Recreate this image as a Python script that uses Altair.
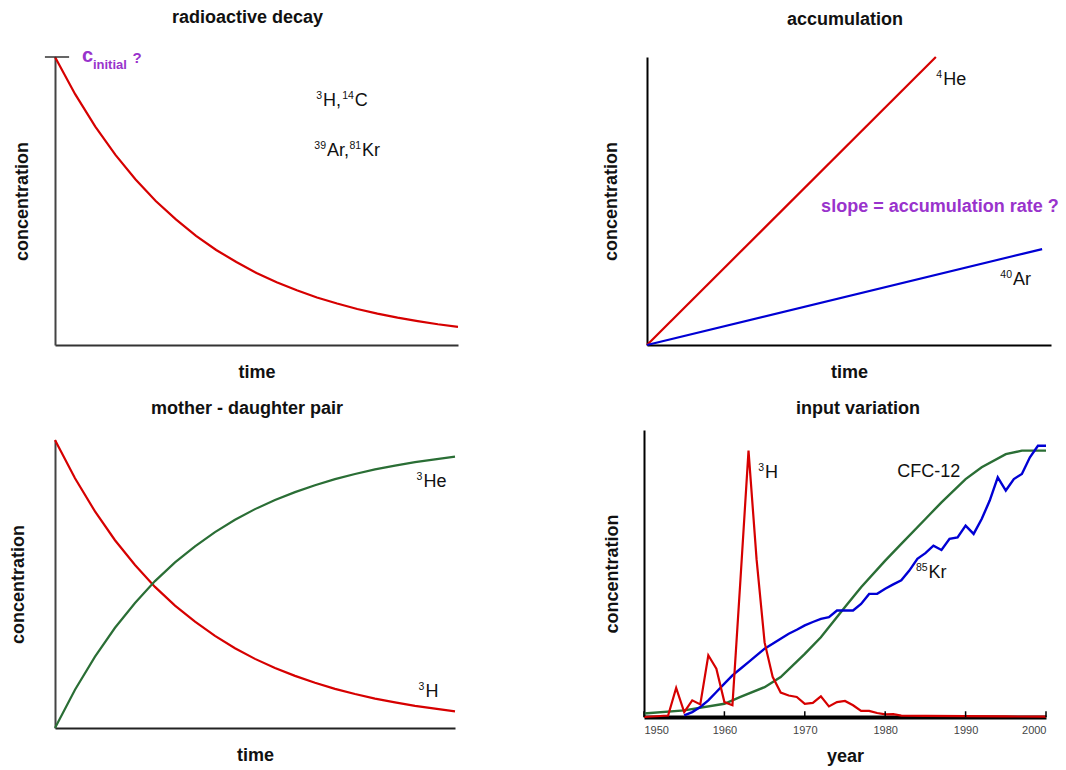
import altair as alt
import pandas as pd

FONT = "Liberation Sans"
RED = "#d60000"
GREEN = "#2a6e35"
BLUE = "#0000d4"
PURPLE = "#9933cc"

# ---------- Panel A: radioactive decay ----------
decay_t = [0.0, 0.05, 0.1, 0.15, 0.2, 0.25, 0.3, 0.35, 0.4, 0.45, 0.5,
           0.55, 0.6, 0.65, 0.7, 0.75, 0.8, 0.85, 0.9, 0.95, 1.0]
decay_c = [1.0, 0.871, 0.758, 0.660, 0.575, 0.500, 0.436, 0.379, 0.330, 0.288, 0.250,
           0.218, 0.190, 0.165, 0.144, 0.125, 0.109, 0.095, 0.083, 0.072, 0.063]

# ---------- Panel B: accumulation ----------
he4_t = [0.0, 0.715]
he4_c = [0.0, 1.0]
ar40_t = [0.0, 0.978]
ar40_c = [0.0, 0.333]

# ---------- Panel C: mother - daughter ----------
md_t = decay_t
md_mother = [1.0, 0.867, 0.752, 0.652, 0.566, 0.490, 0.425, 0.369, 0.320, 0.277, 0.240,
             0.208, 0.181, 0.157, 0.136, 0.118, 0.102, 0.089, 0.077, 0.067, 0.058]
md_daughter = [0.0, 0.133, 0.248, 0.348, 0.434, 0.510, 0.575, 0.631, 0.680, 0.723, 0.760,
               0.792, 0.819, 0.843, 0.864, 0.882, 0.898, 0.911, 0.923, 0.933, 0.942]

# ---------- Panel D: input variation ----------
h3_year = [1950, 1953, 1954, 1955, 1956, 1957, 1958, 1959, 1960, 1961, 1962, 1963,
           1964, 1965, 1966, 1967, 1968, 1969, 1970, 1971, 1972, 1973, 1974, 1975,
           1976, 1977, 1978, 1979, 1980, 1981, 1982, 1985, 1990, 1995, 2000]
h3_val = [0.0, 0.005, 0.101, 0.017, 0.058, 0.044, 0.215, 0.168, 0.052, 0.041, 0.48, 0.928,
          0.55, 0.26, 0.14, 0.085, 0.075, 0.07, 0.046, 0.049, 0.072, 0.037, 0.052, 0.056,
          0.041, 0.021, 0.021, 0.014, 0.009, 0.010, 0.005, 0.004, 0.003, 0.002, 0.001]

cfc_year = [1950, 1955, 1960, 1962, 1965, 1967, 1970, 1972, 1975, 1977, 1980, 1982,
            1985, 1987, 1990, 1992, 1995, 1997, 2000]
cfc_val = [0.012, 0.023, 0.046, 0.07, 0.104, 0.139, 0.22, 0.278, 0.383, 0.452, 0.545,
           0.603, 0.69, 0.748, 0.829, 0.87, 0.916, 0.928, 0.928]

kr_year = list(range(1955, 2001))
kr_val = [0.006, 0.017, 0.035, 0.058, 0.087, 0.116, 0.145, 0.168, 0.191, 0.215, 0.238,
          0.255, 0.273, 0.29, 0.304, 0.319, 0.331, 0.342, 0.348, 0.371, 0.371, 0.371,
          0.394, 0.429, 0.429, 0.447, 0.462, 0.476, 0.51, 0.551, 0.571, 0.597, 0.582,
          0.621, 0.626, 0.667, 0.638, 0.69, 0.754, 0.835, 0.789, 0.829, 0.847, 0.905,
          0.945, 0.945]

decade_ticks = [1950, 1960, 1970, 1980, 1990, 2000]

# label tables: base text, superscript prefix, anchor (x, y) in data units
labA = {"x": [0.665, 0.744, 0.675, 0.762], "y": [0.847, 0.847, 0.674, 0.674],
        "base": ["H,", "C", "Ar,", "Kr"], "sup": ["3", "14", "39", "81"]}
labB = {"x": [0.733, 0.906], "y": [0.92, 0.226], "base": ["He", "Ar"], "sup": ["4", "40"]}
labC = {"x": [0.921, 0.926], "y": [0.854, 0.125], "base": ["He", "H"], "sup": ["3", "3"]}
labD = {"x": [1965.05, 1981.5, 1985.4], "y": [0.85, 0.854, 0.502],
        "base": ["H", "CFC-12", "Kr"], "sup": ["3", "", "85"]}

# ---------------------------------------------------------------------------
TITLE_SIZE = 18


def title(text, offset, dx):
    return alt.TitleParams(text, offset=offset, dx=dx, frame="group", font=FONT,
                           fontSize=TITLE_SIZE, fontWeight="bold", color="#111")


def sx(dom=(0, 1), rng=None):
    if rng is None:
        return alt.Scale(domain=list(dom), nice=False)
    return alt.Scale(domain=list(dom), nice=False, range=list(rng))


def labels(tbl, domx=(0, 1), yr=None):
    df = pd.DataFrame(tbl)
    base = alt.Chart(df).mark_text(align="left", baseline="middle", font=FONT,
                                   fontSize=18, color="#111").encode(
        x=alt.X("x:Q", scale=sx(domx)), y=alt.Y("y:Q", scale=sx(rng=yr)), text="base:N")
    sup = alt.Chart(df).mark_text(align="right", baseline="middle", font=FONT,
                                  fontSize=10.5, color="#111", dy=-5, dx=-1).encode(
        x=alt.X("x:Q", scale=sx(domx)), y=alt.Y("y:Q", scale=sx(rng=yr)), text="sup:N")
    return base + sup


def x_axis(t, color="#333", width=2, pad=18):
    return alt.Axis(title=t, labels=False, ticks=False, grid=False,
                    domainColor=color, domainWidth=width,
                    titleFont=FONT, titleFontSize=TITLE_SIZE, titleFontWeight="bold",
                    titleColor="#111", titlePadding=pad)


def y_axis(t, color="#333", width=2, pad=24):
    return alt.Axis(title=t, labels=False, ticks=False, grid=False,
                    domainColor=color, domainWidth=width,
                    titleFont=FONT, titleFontSize=TITLE_SIZE, titleFontWeight="bold",
                    titleColor="#111", titlePadding=pad)


def curve(t, c, color, xa, ya, domx=(0, 1), sw=2.2, yr=None):
    df = pd.DataFrame({"t": t, "c": c})
    return alt.Chart(df).mark_line(color=color, strokeWidth=sw).encode(
        x=alt.X("t:Q", scale=sx(domx), axis=xa),
        y=alt.Y("c:Q", scale=sx(rng=yr), axis=ya),
    )


# ---- A ----
lineA = curve(decay_t, decay_c, RED, x_axis("time"), y_axis("concentration", color="#444", pad=24))
tickA = alt.Chart(pd.DataFrame({"x": [-0.025], "x2": [0.035], "y": [1.0]})).mark_rule(
    color="#333", strokeWidth=1.5).encode(x=alt.X("x:Q", scale=sx()), x2="x2:Q",
                                          y=alt.Y("y:Q", scale=sx()))
cinit = pd.DataFrame({"x": [0.067], "y": [0.983], "t": ["c"]})
cinit_sub = pd.DataFrame({"x": [0.094], "y": [0.958], "t": ["initial"]})
cinit_q = pd.DataFrame({"x": [0.192], "y": [0.979], "t": ["?"]})


def ptext(df, size):
    return alt.Chart(df).mark_text(align="left", baseline="alphabetic", font=FONT,
                                   fontSize=size, fontWeight="bold", color=PURPLE).encode(
        x=alt.X("x:Q", scale=sx()), y=alt.Y("y:Q", scale=sx()), text="t:N")


panelA = alt.layer(lineA, tickA, ptext(cinit, 20), ptext(cinit_sub, 13), ptext(cinit_q, 15),
                   labels(labA)).properties(
    width=403, height=288, title=title("radioactive decay", 19, -9))

# ---- B ----
lineB1 = curve(he4_t, he4_c, RED, x_axis("time", color="#000"),
               y_axis("concentration", color="#000", pad=27))
lineB2 = curve(ar40_t, ar40_c, BLUE, x_axis("time", color="#000"),
               y_axis("concentration", color="#000", pad=27))
slopeB = alt.Chart(pd.DataFrame({"x": [0.431], "y": [0.479],
                                 "t": ["slope = accumulation rate ?"]})).mark_text(
    align="left", baseline="middle", font=FONT, fontSize=18, fontWeight="bold",
    color=PURPLE).encode(x=alt.X("x:Q", scale=sx()), y=alt.Y("y:Q", scale=sx()), text="t:N")
panelB = alt.layer(lineB1, lineB2, labels(labB), slopeB).properties(
    width=404, height=288, title=title("accumulation", 24, -4))

# ---- C ---- (plot frame starts 10 px lower than panel D's)
C_H = 298
C_RANGE = (C_H, 10)
xaC = x_axis("time", color="#222")
yaC = y_axis("concentration", color="#444", pad=28)
lineC1 = curve(md_t, md_mother, RED, xaC, yaC, yr=C_RANGE)
lineC2 = curve(md_t, md_daughter, GREEN, xaC, yaC, yr=C_RANGE)
panelC = alt.layer(lineC1, lineC2, labels(labC, yr=C_RANGE)).properties(
    width=400, height=C_H, title=title("mother - daughter pair", 12, -8))

# ---- D ----
xaD = alt.Axis(title="year", values=decade_ticks, format="d", ticks=False, grid=False,
               domainColor="#000", domainWidth=4, labelFont=FONT, labelFontSize=11,
               labelColor="#444", labelPadding=7.5,
               titleFont=FONT, titleFontSize=TITLE_SIZE, titleFontWeight="bold",
               titleColor="#111", titlePadding=12)
yaD = y_axis("concentration", color="#000", pad=23)
DOMD = (1950, 2000)
lineD1 = curve(cfc_year, cfc_val, GREEN, xaD, yaD, DOMD, 2.4)
lineD2 = curve(kr_year, kr_val, BLUE, xaD, yaD, DOMD, 2.4)
lineD3 = curve(h3_year, h3_val, RED, xaD, yaD, DOMD, 2.2)
ticksD = alt.Chart(pd.DataFrame({"year": decade_ticks, "y0": [0] * 6, "y1": [0.02] * 6})).mark_rule(
    color="#000", strokeWidth=1.5).encode(
    x=alt.X("year:Q", scale=sx(DOMD)), y=alt.Y("y0:Q", scale=sx()), y2="y1:Q")
panelD = alt.layer(lineD1, lineD2, lineD3, ticksD, labels(labD, DOMD)).properties(
    width=402, height=287, title=title("input variation", 12, 13))

top = alt.hconcat(panelA, panelB, spacing=139)
bottom = alt.hconcat(panelC, panelD, spacing=143)
chart = alt.vconcat(top, bottom, spacing=19).properties(
    padding={"left": 9, "top": 8, "right": 2, "bottom": 2}
).configure(background="#ffffff").configure_view(stroke=None)

chart.save("out.html", embed_options={"renderer": "svg", "actions": False})
